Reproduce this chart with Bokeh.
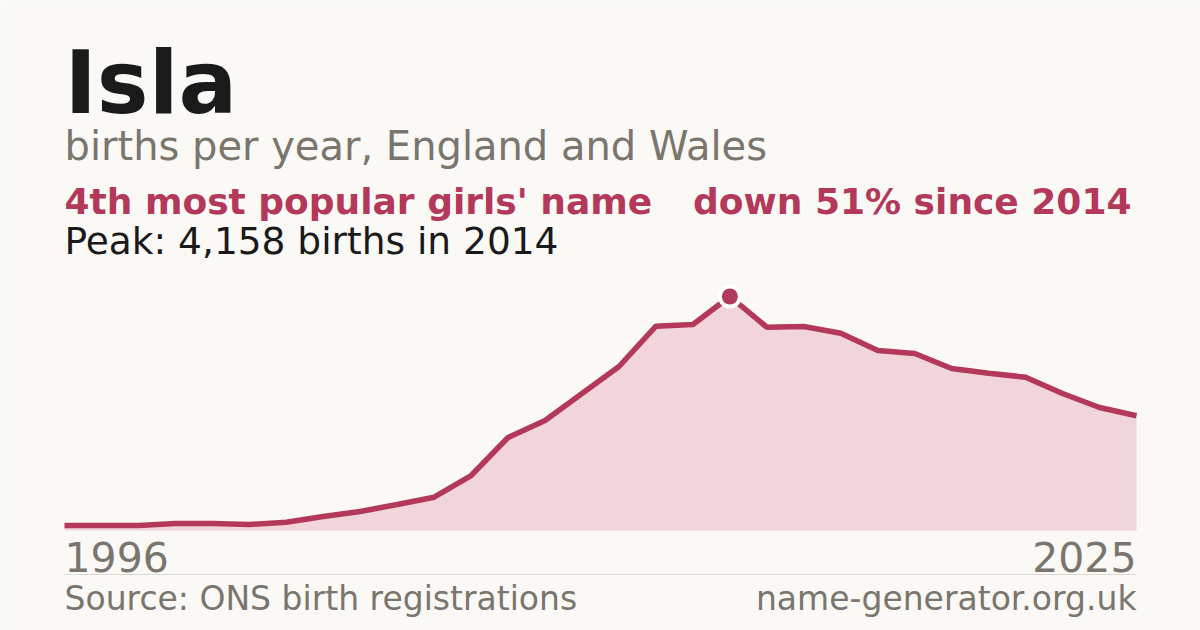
from bokeh.embed import file_html
from bokeh.models import BoxAnnotation, Label, Range1d
from bokeh.plotting import figure
from bokeh.resources import INLINE

# Isla, births per year in England and Wales
years = list(range(1996, 2026))
births = [89, 89, 89, 124, 124, 107, 148, 249, 338, 462,
          592, 977, 1653, 1955, 2434, 2914, 3630, 3661, 4158, 3613,
          3625, 3506, 3199, 3145, 2879, 2795, 2724, 2434, 2186, 2040]

name = "Isla"
subtitle = "births per year, England and Wales"
rank_text = "4th most popular girls' name"
footer_left = "Source: ONS birth registrations"
footer_right = "name-generator.org.uk"

BG = "#faf9f5"
RED = "#b3385a"
FILL = "#f2d5da"
GREY = "#7a756d"
INK = "#1a1a1a"
FONT = "DejaVu Sans"

W, H = 1200, 630

peak = max(births)
peak_year = years[births.index(peak)]
drop = round((1 - births[-1] / peak) * 100)

# chart area: first year at x=64, last at x=1136; zero 100px above the bottom, peak 234px higher
px_year = 1072 / (years[-1] - years[0])
px_unit = 234 / peak
x0 = years[0] - 64 / px_year
y0 = -100 / px_unit

p = figure(
    width=W,
    height=H,
    x_range=Range1d(x0, x0 + W / px_year),
    y_range=Range1d(y0, y0 + H / px_unit),
    x_axis_type=None,
    y_axis_type=None,
    toolbar_location=None,
    tools="",
    output_backend="svg",
    min_border=0,
    background_fill_color=BG,
    border_fill_color=BG,
    outline_line_color=None,
)
p.grid.grid_line_color = None

p.varea(x=years, y1=[0] * len(years), y2=births, fill_color=FILL)
p.line(x=years, y=births, line_color=RED, line_width=5.5)

# peak marker with a white halo
p.scatter(x=[peak_year], y=[peak], size=24, fill_color="white", line_color=None)
p.scatter(x=[peak_year], y=[peak], size=16, fill_color=RED, line_color=None)


def label(text, x, y, size, color, bold=False, align="left", units="screen"):
    # y is the wanted baseline; the svg text sits ~0.35em lower, so lift it
    p.add_layout(Label(
        x=x, y=y + 0.35 * size, x_units=units, y_units="screen", text=text,
        text_font=FONT, text_font_size=f"{size}px",
        text_font_style="bold" if bold else "normal",
        text_color=color, text_align=align, text_baseline="alphabetic",
    ))


label(name, 64, 517, 87, INK, bold=True)
label(subtitle, 64, 471, 40, GREY)
label(rank_text, 64, 416, 36, RED, bold=True)
label(f"down {drop}% since {peak_year}", 1131, 416, 36, RED, bold=True, align="right")
label(f"Peak: {peak:,} births in {peak_year}", 64, 376, 37.5, INK)

label(str(years[0]), years[0], 59, 41, GREY, units="data")
label(str(years[-1]), years[-1], 59, 41, GREY, align="right", units="data")

p.add_layout(BoxAnnotation(
    left=years[0], right=years[-1], bottom=55.5, top=56.5,
    bottom_units="screen", top_units="screen",
    fill_color="#dcd9d2", fill_alpha=1, line_color=None,
))

label(footer_left, 64, 20, 33, GREY)
label(footer_right, 1136, 20, 33, GREY, align="right")

html = file_html(p, INLINE)
html = html.replace("<body>", f'<body style="background:{BG};">', 1)
open("out.html", "w").write(html)
